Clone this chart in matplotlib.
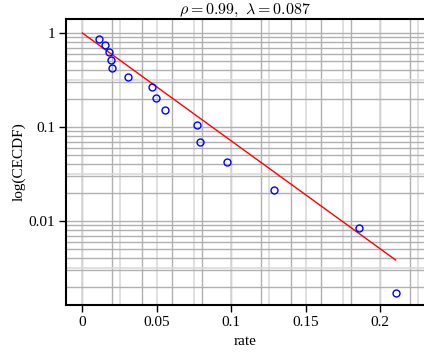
import matplotlib.pyplot as plt
import numpy as np

plt.rcParams['font.family'] = ['Liberation Serif', 'DejaVu Serif']
plt.rcParams['mathtext.fontset'] = 'cm'

# data
rate = [0.0114, 0.0154, 0.0177, 0.0191, 0.0197, 0.0307, 0.0470, 0.0497,
        0.0555, 0.0772, 0.0790, 0.0969, 0.1287, 0.1859, 0.2103]
cecdf = [0.863, 0.740, 0.623, 0.521, 0.428, 0.340, 0.268, 0.206,
         0.151, 0.106, 0.070, 0.0426, 0.0216, 0.0085, 0.00173]
fit_x = [0.0, 0.2103]
fit_y = [1.0, 0.00385]
rho = 0.99
lam = 0.087
xticks = [0, 0.05, 0.1, 0.15, 0.2]
xticklabels = ["0", "0.05", "0.1", "0.15", "0.2"]
yticks = [1, 0.1, 0.01]
yticklabels = ["1", "0.1", "0.01"]

fig = plt.figure(figsize=(4.24, 3.52), dpi=100)
ax = fig.add_axes([66/424, 47/352, 358/424, 286/352])

ax.set_yscale('log')
ax.set_xlim(-0.011, 0.2293)
ax.set_ylim(0.00128, 1.41)

# grid: darker at 0.02 steps / log minor, lighter at 0.025 steps / half decades
for v in np.arange(0, 0.24, 0.02):
    ax.axvline(v, color='#b0b0b0', lw=1, zorder=0)
for v in np.arange(0, 0.24, 0.025):
    ax.axvline(v, color='#dadada', lw=1.2, zorder=0)
for k in range(-3, 1):
    for m in range(1, 10):
        ax.axhline(m * 10.0**k, color='#b0b0b0', lw=1, zorder=0)
    ax.axhline(10**(k - 0.5), color='#dadada', lw=1.2, zorder=0)

ax.plot(fit_x, fit_y, color='red', lw=1, zorder=2)
ax.plot(rate, cecdf, 'o', mfc='none', mec='blue', ms=5, mew=1, zorder=3)

ax.set_xticks(xticks)
ax.set_xticklabels(xticklabels)
ax.set_yticks(yticks)
ax.set_yticklabels(yticklabels)
ax.minorticks_off()
ax.tick_params(direction='out', length=5, width=1, labelsize=11, pad=3)

for s in ['left', 'bottom', 'top']:
    ax.spines[s].set_linewidth(1.5)
ax.spines['right'].set_visible(False)

ax.set_title(r'$\rho = %.2f,\ \lambda = %.3f$' % (rho, lam), fontsize=11.5, pad=3)
ax.set_xlabel('rate', fontsize=11, labelpad=4)
ax.set_ylabel('log(CECDF)', fontsize=11, labelpad=2)

fig.savefig('out.png', dpi=100)
